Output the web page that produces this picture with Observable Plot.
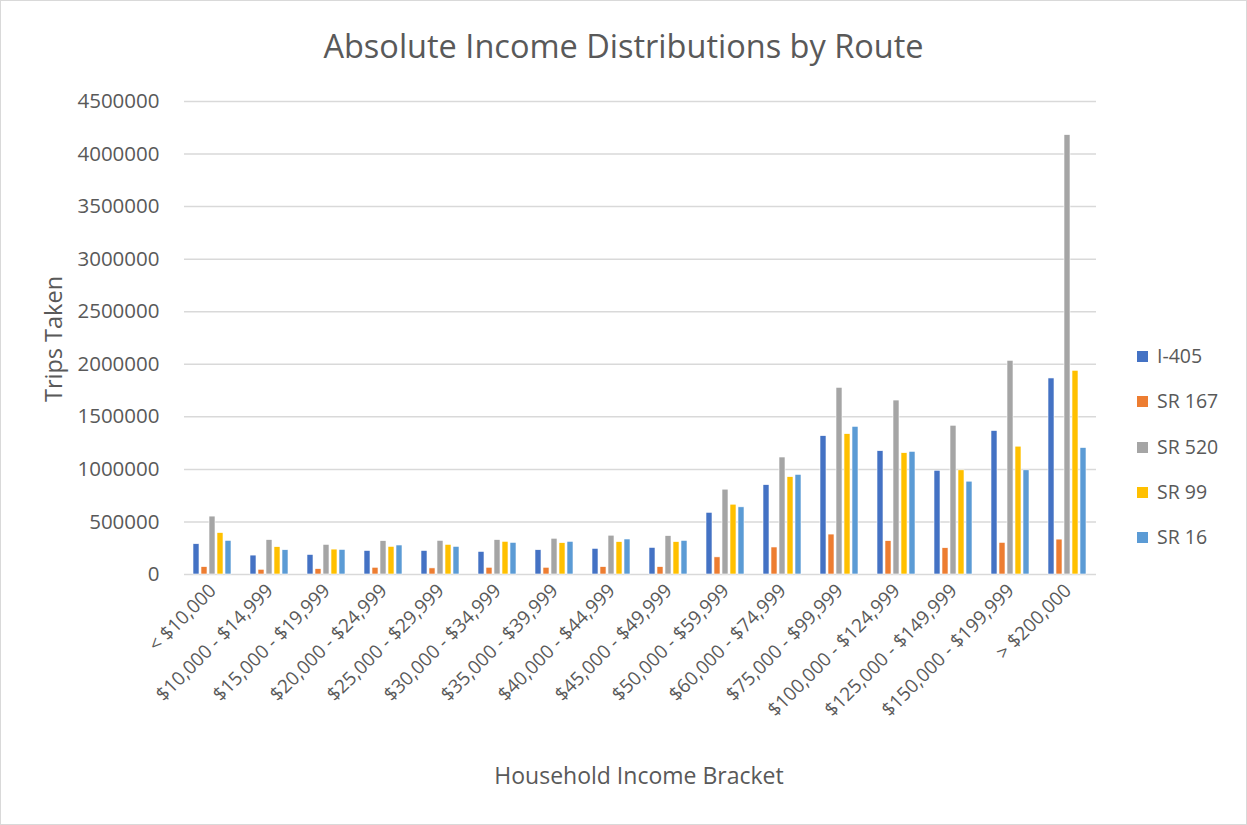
<!DOCTYPE html>
<html><head><meta charset="utf-8">
<script src="https://cdn.jsdelivr.net/npm/d3@7"></script>
<script src="https://cdn.jsdelivr.net/npm/@observablehq/plot@0.6"></script>
<style>
body{margin:0;background:#fff;}
#wrap{position:relative;width:1247px;height:825px;overflow:hidden;font-family:"Open Sans",sans-serif;color:#595959;background:#fff;}
#border{position:absolute;left:0;top:0;width:1245px;height:823px;border:1px solid #d9d9d9;pointer-events:none;}
#chart{position:absolute;left:0;top:0;}
#chart [aria-label="y-axis tick label"]{font-size:20.5px;}
#title{position:absolute;left:0;width:1247px;top:24px;text-align:center;font-size:32.5px;line-height:44px;}
#ytitle{position:absolute;left:53px;top:339px;transform:translate(-50%,-50%) rotate(-90deg);font-size:23.5px;white-space:nowrap;}
#xtitle{position:absolute;left:0;width:1278px;top:760px;text-align:center;font-size:23px;line-height:30px;}
#legend{position:absolute;left:1137px;top:343px;}
.li{height:45.3px;display:flex;align-items:flex-start;font-size:19.5px;line-height:26px;}
.sw{width:11px;height:11px;margin-top:8px;margin-right:9px;}
</style></head>
<body>
<div id="wrap">
  <div id="chart"></div>
  <div id="title">Absolute Income Distributions by Route</div>
  <div id="ytitle">Trips Taken</div>
  <div id="xtitle">Household Income Bracket</div>
  <div id="legend"></div>
  <div id="border"></div>
</div>
<script>
const brackets = ["< $10,000","$10,000 - $14,999","$15,000 - $19,999","$20,000 - $24,999","$25,000 - $29,999","$30,000 - $34,999","$35,000 - $39,999","$40,000 - $44,999","$45,000 - $49,999","$50,000 - $59,999","$60,000 - $74,999","$75,000 - $99,999","$100,000 - $124,999","$125,000 - $149,999","$150,000 - $199,999","> $200,000"];
const routes = ["I-405","SR 167","SR 520","SR 99","SR 16"];
const routeColors = ["#4472C4","#ED7D31","#A5A5A5","#FFC000","#5B9BD5"];
const i405  = [288000,180000,186000,224000,224000,215000,231000,244000,253000,587000,850000,1316000,1173000,987000,1365000,1865000];
const sr167 = [70000,45000,51000,64000,58000,64000,64000,70000,70000,163000,257000,380000,317000,250000,301000,332000];
const sr520 = [551000,327000,282000,317000,320000,327000,340000,369000,365000,807000,1113000,1776000,1655000,1415000,2033000,4180000];
const sr99  = [394000,260000,237000,263000,282000,311000,298000,308000,308000,664000,926000,1335000,1154000,991000,1216000,1938000];
const sr16  = [320000,231000,234000,276000,263000,301000,311000,333000,320000,639000,948000,1405000,1167000,883000,991000,1203000];
const yTicks = [0,500000,1000000,1500000,2000000,2500000,3000000,3500000,4000000,4500000];

const series = [i405, sr167, sr520, sr99, sr16];
const data = [];
brackets.forEach((b, i) => routes.forEach((r, j) => data.push({bracket: b, route: r, value: series[j][i]})));

const chart = Plot.plot({
  width: 1247,
  height: 825,
  marginTop: 101,
  marginBottom: 251,
  marginLeft: 183,
  marginRight: 150,
  style: {fontSize: "19px", fontFamily: "'Open Sans', sans-serif", color: "#595959", background: "transparent"},
  fx: {domain: brackets, padding: 0, axis: "bottom", tickRotate: -45, tickSize: 0, tickPadding: 13, label: null},
  x: {domain: routes, axis: null, paddingInner: 0.2, paddingOuter: 0.88},
  y: {domain: [0, 4500000], ticks: yTicks, tickFormat: d => String(d), tickSize: 0, tickPadding: 25, label: null},
  color: {domain: routes, range: routeColors},
  marks: [
    Plot.ruleY(yTicks, {stroke: "#d9d9d9", strokeWidth: 1.5}),
    Plot.barY(data, {fx: "bracket", x: "route", y: "value", fill: "route", stroke: "white", strokeWidth: 0.6})
  ]
});
document.getElementById("chart").appendChild(chart);

const legend = document.getElementById("legend");
routes.forEach((r, i) => {
  const d = document.createElement("div");
  d.className = "li";
  d.innerHTML = `<span class="sw" style="background:${routeColors[i]}"></span><span>${r}</span>`;
  legend.appendChild(d);
});
</script>
</body></html>
